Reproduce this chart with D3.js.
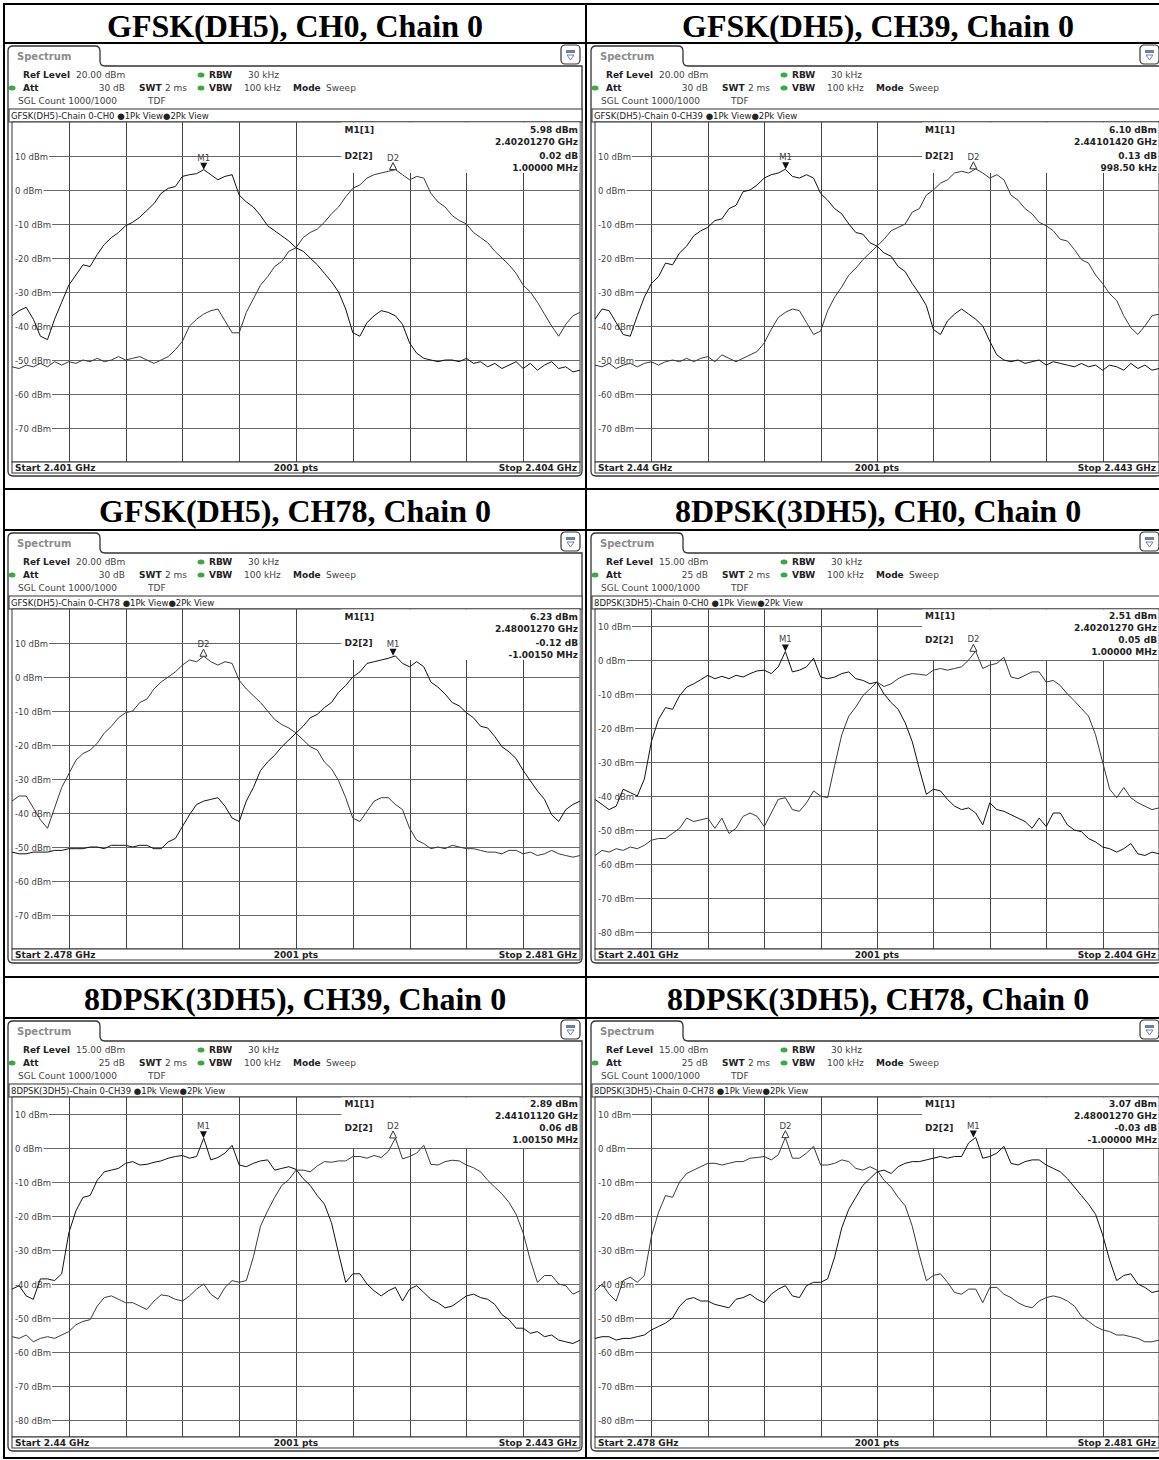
<!DOCTYPE html>
<html>
<head>
<meta charset="utf-8">
<script src="https://cdn.jsdelivr.net/npm/d3@7"></script>
<style>
  body { margin: 0; background: #fff; }
  text { font-family: "DejaVu Sans", sans-serif; }
</style>
</head>
<body>
<svg id="chart"></svg>
<script>
const width = 1159;
const height = 1460;

// ---- data ----
const titles = ["GFSK(DH5), CH0, Chain 0", "GFSK(DH5), CH39, Chain 0", "GFSK(DH5), CH78, Chain 0",
  "8DPSK(3DH5), CH0, Chain 0", "8DPSK(3DH5), CH39, Chain 0", "8DPSK(3DH5), CH78, Chain 0"];
const traceNames = ["GFSK(DH5)-Chain 0-CH0", "GFSK(DH5)-Chain 0-CH39", "GFSK(DH5)-Chain 0-CH78",
  "8DPSK(3DH5)-Chain 0-CH0", "8DPSK(3DH5)-Chain 0-CH39", "8DPSK(3DH5)-Chain 0-CH78"];
const refLevels = [20, 20, 20, 15, 15, 15];
const refTexts = ["20.00 dBm", "20.00 dBm", "20.00 dBm", "15.00 dBm", "15.00 dBm", "15.00 dBm"];
const attTexts = ["30 dB", "30 dB", "30 dB", "25 dB", "25 dB", "25 dB"];
const startGHz = [2.401, 2.44, 2.478, 2.401, 2.44, 2.478];
const stopGHz = [2.404, 2.443, 2.481, 2.404, 2.443, 2.481];
const startTexts = ["Start 2.401 GHz", "Start 2.44 GHz", "Start 2.478 GHz", "Start 2.401 GHz", "Start 2.44 GHz", "Start 2.478 GHz"];
const stopTexts = ["Stop 2.404 GHz", "Stop 2.443 GHz", "Stop 2.481 GHz", "Stop 2.404 GHz", "Stop 2.443 GHz", "Stop 2.481 GHz"];
const m1Freq = [2.4020127, 2.4410142, 2.4800127, 2.4020127, 2.4410112, 2.4800127];
const m1Level = [5.98, 6.10, 6.23, 2.51, 2.89, 3.07];
const d2OffsetMHz = [1.0, 0.9985, -1.0015, 1.0, 1.0015, -1.0];
const d2DeltaDb = [0.02, 0.13, -0.12, 0.05, 0.06, -0.03];
const m1LevelTexts = ["5.98 dBm", "6.10 dBm", "6.23 dBm", "2.51 dBm", "2.89 dBm", "3.07 dBm"];
const m1FreqTexts = ["2.40201270 GHz", "2.44101420 GHz", "2.48001270 GHz", "2.40201270 GHz", "2.44101120 GHz", "2.48001270 GHz"];
const d2DeltaTexts = ["0.02 dB", "0.13 dB", "-0.12 dB", "0.05 dB", "0.06 dB", "-0.03 dB"];
const d2OffsetTexts = ["1.00000 MHz", "998.50 kHz", "-1.00150 MHz", "1.00000 MHz", "1.00150 MHz", "-1.00000 MHz"];

// trace values in dBm, 81 points from start to stop
const gfskCh0Trace1 = [-37,-35.5,-34.5,-38,-43,-44,-38,-33,-28,-25,
  -22,-22.5,-19,-16,-14,-12.5,-10.5,-9.5,-8,-6,
  -4,-1,0.5,1,4,4.5,4.8,6,4.5,3,
  4,4.5,-1.5,-3.5,-5,-7.5,-10.5,-12,-13.5,-15,
  -17,-18,-20,-22,-24.5,-27,-30,-35,-42,-43,
  -39,-37,-35.5,-36,-37,-39.5,-45,-48,-49.5,-50,
  -50.5,-50,-50,-50.5,-49.5,-51,-50.5,-52,-51,-52.5,
  -51.5,-50.5,-52.5,-51,-53,-51.5,-50.5,-52.5,-52,-53.5,-53];
const gfskCh0Trace2 = [-52,-52.5,-51.5,-52,-51,-52,-50.5,-51.5,-50.5,-51,
  -50,-50.5,-49.5,-50.5,-50,-49,-50,-49.5,-49,-50,
  -51,-50,-49,-47,-44.5,-40,-38,-36.5,-35.5,-35,
  -38.5,-42,-42,-36,-32,-28,-25.5,-22.5,-21,-18,
  -17,-14,-12.5,-11.5,-9.5,-7,-5,-2,0.5,1.5,
  3.5,4.5,5,5.5,6,4.5,3,4,3.5,-1,
  -3.5,-5,-7.5,-9,-10,-12.5,-14,-15.5,-18,-20,
  -22,-24.5,-28,-30,-33,-36.5,-40,-43,-39.5,-37,-36];
const gfskCh39Trace1 = [-38,-35,-35.5,-39,-42.5,-43,-37,-31.5,-27.5,-25.5,
  -21.5,-22,-18.5,-16.5,-13.5,-12,-11,-9,-8.5,-5.5,
  -4.5,-0.5,0,1.5,3.5,4.5,5,6.1,4,3.5,
  4.5,3.5,-1,-3,-5.5,-7,-10,-12.5,-13,-15.5,
  -16.5,-18.5,-19.5,-22.5,-24,-27.5,-30.5,-34,-41,-42.5,
  -38.5,-36.5,-35,-36.5,-38,-40,-44.5,-48.5,-50,-50.5,
  -50,-51,-50.5,-50,-51.5,-50.5,-51,-51.5,-52,-51,
  -52,-51.5,-53,-51.5,-52,-53,-51,-52.5,-51.5,-53,-52.5];
const gfskCh39Trace2 = [-51.5,-52,-51,-52.5,-51.5,-51,-52,-51,-50.5,-51.5,
  -50.5,-50,-50.5,-49.5,-50.5,-49.5,-49,-50.5,-48.5,-49.5,
  -50.5,-49.5,-48.5,-47.5,-45,-41,-37.5,-36,-35,-35.5,
  -39,-42.5,-41.5,-35.5,-31.5,-28.5,-25,-23,-20.5,-18.5,
  -16.5,-14.5,-12,-11,-10,-6.5,-5.5,-1.5,0,2,
  3,5,5.5,5,6.2,5,3.5,4.5,3,-1.5,
  -3,-5.5,-7,-9.5,-10.5,-12,-14.5,-15,-17.5,-20.5,
  -21.5,-25,-27.5,-30.5,-32.5,-37,-40.5,-42.5,-40,-37,-36.5];
const gfskCh78Trace1 = [-51.5,-52,-52,-51.5,-51.5,-51.5,-51,-51,-50.5,-50.5,
  -50.5,-50,-50,-50.5,-49.5,-49.5,-49.5,-50,-49.5,-49.5,
  -50.5,-50.5,-48.5,-47.5,-44,-40.5,-37.5,-36.5,-36,-35.5,
  -38,-41.5,-42.5,-36.5,-32.5,-27.5,-25,-23,-20.5,-18.5,
  -16.5,-14.5,-12,-11,-9,-7.5,-4.5,-2.5,0,1.5,
  4,4.5,5,5.5,6.2,4,3,4.5,3,-1.5,
  -3,-5,-7.5,-8.5,-10.5,-12,-14.5,-15,-17.5,-20.5,
  -22,-24,-27.5,-30.5,-33.5,-36,-40.5,-42.5,-39,-37.5,-36.5];
const gfskCh78Trace2 = [-36.5,-35,-35,-38.5,-42,-44.5,-38.5,-32.5,-28.5,-24.5,
  -22.5,-21.5,-19.5,-16.5,-14.5,-12,-10.5,-10,-7.5,-6.5,
  -3.5,-1.5,0,1.5,3.5,5,4.5,6.1,4.5,3.5,
  4.5,4,-1,-3.5,-5.5,-7.5,-10,-12.5,-14,-15,
  -16.5,-18.5,-20.5,-21.5,-25,-27,-30.5,-35.5,-41.5,-42.5,
  -39.5,-36.5,-35.5,-35.5,-37.5,-39,-44.5,-48,-49,-50.5,
  -50,-50.5,-49.5,-50,-50.5,-50.5,-51,-51.5,-51.5,-52,
  -51,-51,-52,-51.5,-52.5,-52,-51,-52,-52.5,-53,-52.5];
const dpskCh0Trace1 = [-41,-42.5,-44,-43,-38,-39,-40,-35,-24,-17.5,
  -14,-14.5,-10.5,-8,-7,-5.8,-4.5,-5.5,-4.8,-5.5,
  -4.5,-5,-4,-3.2,-3,-4,-2,2.5,-3.5,-3,
  -2,0.5,-5,-5.5,-5,-4,-3.5,-5.5,-6,-7,
  -6.5,-10,-12.5,-14.5,-18.5,-24,-32,-39.5,-38,-38.5,
  -41,-43,-44,-43.5,-45,-48.5,-42,-44,-44.5,-45.5,
  -46.5,-47.5,-49.5,-46.5,-49,-45,-45,-48.5,-50,-50.5,
  -52.5,-53.5,-55,-55.5,-56.5,-55.5,-54,-57,-57.5,-56.5,-57];
const dpskCh0Trace2 = [-57.5,-56,-56.5,-55.5,-56,-55,-55.5,-54.5,-53,-52.5,
  -52.5,-51,-49.5,-46.5,-47.5,-47,-46.5,-49.5,-46.5,-51,
  -49.5,-46,-45,-46,-49,-45,-41,-40.5,-44,-44.5,
  -42,-38.5,-40,-40.5,-31,-22,-16.5,-13.8,-10.5,-8.5,
  -6.5,-7.8,-7,-5.5,-4.5,-4,-4.2,-4.5,-3,-2.5,
  -3,-2.5,-2,0,2.6,-2.5,-1.5,-1,0.8,-5,
  -5.5,-4.5,-3.5,-3.5,-6.5,-6,-7.5,-10,-12,-14.3,
  -16.5,-22,-30,-38,-40.5,-37.5,-40.5,-42,-43,-44,-43.5];
const dpskCh39Trace1 = [-41.5,-40.5,-43.5,-44.5,-38.5,-38.5,-39,-37,-25,-18.5,
  -14.5,-14,-9.5,-7,-6.5,-6,-4.5,-4,-5,-4.8,
  -4.2,-3.8,-3,-2.5,-2.2,-3,-2.5,2.9,-3.5,-2.8,
  -1.5,0.8,-5,-5.5,-4.5,-3.8,-3.5,-6.5,-6,-5.5,
  -6.3,-9,-11,-14,-16.5,-22,-31,-39.5,-37,-37,
  -40,-42,-43.5,-42,-41,-45,-41.5,-40.5,-42.5,-44.5,
  -45.5,-47,-46.5,-45,-43.5,-43,-44,-44.5,-46,-49,
  -50.5,-53,-53,-54.5,-54,-55.5,-55,-56.5,-57,-57.5,-56.5];
const dpskCh39Trace2 = [-55.5,-56,-55,-57,-56,-55.5,-56,-55,-54,-52,
  -51,-50.5,-46.5,-44,-43.5,-44.5,-45.5,-45.5,-46.5,-47.5,
  -45,-43.2,-43.5,-44.5,-45,-43.5,-41.5,-40,-43,-44.5,
  -41,-39,-39.5,-39,-32,-23,-18.5,-14.5,-11,-9.3,
  -6.5,-6.5,-7,-5.3,-4,-4.2,-3.8,-3.8,-2.5,-2.5,
  -3,-2.2,-2.8,-1,2.9,-3.2,-2.5,-1.5,0.8,-4.8,
  -5,-4,-3.6,-3.8,-5,-5.8,-7,-9.5,-11.5,-13.5,
  -16,-19.5,-25,-33,-39.5,-37.5,-37.5,-40,-40.5,-43,-42];
const dpskCh78Trace1 = [-56,-55.5,-55.5,-56.5,-56,-56,-55.5,-55,-53.5,-52.5,
  -51.5,-50,-46.5,-44.5,-44,-45,-45,-46,-46.5,-47,
  -44.5,-44,-43,-44.5,-45.5,-43,-41.5,-40.5,-43.5,-44,
  -40.5,-39.5,-39.5,-38.5,-32,-23.5,-18,-14.5,-11,-9,
  -7,-6.5,-7.5,-5.5,-4.5,-4,-4,-3.5,-3,-2.5,
  -3,-2.5,-2.5,1.5,3.1,-3,-2.5,-1.5,0.5,-4.5,
  -5,-4,-3.5,-3.5,-5,-6,-7,-9,-11.5,-14,
  -16.5,-19.5,-25.5,-33,-39,-37.5,-37,-40,-41,-42.5,-42];
const dpskCh78Trace2 = [-42,-40,-43,-45,-39,-38,-39.5,-37.5,-26,-19,
  -14,-14.5,-10,-7.5,-6.5,-5.5,-4.5,-4.5,-5,-4.5,
  -4,-4,-3,-2.8,-2.5,-3.5,-2,3.1,-3,-3,
  -1.5,0.5,-5,-5,-4.5,-3.5,-4,-6,-6.5,-5.5,
  -6.5,-9.5,-11.5,-14.5,-17,-23,-31.5,-39,-37.5,-37,
  -39.5,-42.5,-43,-41.5,-41.5,-45.5,-41,-41,-43,-44,
  -45.5,-46.5,-47,-45,-44,-43.5,-44,-45,-46.5,-49.5,
  -51,-52.5,-53.5,-54,-55,-55,-55.5,-56,-57,-57,-56.5];

const trace1s = [gfskCh0Trace1, gfskCh39Trace1, gfskCh78Trace1, dpskCh0Trace1, dpskCh39Trace1, dpskCh78Trace1];
const trace2s = [gfskCh0Trace2, gfskCh39Trace2, gfskCh78Trace2, dpskCh0Trace2, dpskCh39Trace2, dpskCh78Trace2];

// ---- table layout ----
const colX = [3, 586];
const rowTop = [42, 529, 1017];
const titleTop = [4, 489, 977];
// right column screenshots run to the page edge
const frameRight = [579, 575];
const plotRight = [577, 573];

const svg = d3.select("#chart").attr("width", width).attr("height", height);
svg.append("rect").attr("width", width).attr("height", height).attr("fill", "#fff");

// table borders
const hLines = [4, 43, 489, 530, 977, 1018, 1458];
hLines.forEach((y) => {
  svg.append("line").attr("x1", 3).attr("x2", 1180).attr("y1", y).attr("y2", y)
    .attr("stroke", "#000").attr("stroke-width", 2);
});
[4, 586].forEach((x) => {
  svg.append("line").attr("x1", x).attr("x2", x).attr("y1", 3).attr("y2", 1459)
    .attr("stroke", "#000").attr("stroke-width", 2);
});

function txt(g, x, y, s, size, opts) {
  opts = opts || {};
  return g.append("text").attr("x", x).attr("y", y).text(s)
    .attr("font-size", size)
    .attr("font-weight", opts.bold ? "bold" : "normal")
    .attr("text-anchor", opts.anchor || "start")
    .attr("fill", opts.fill || "#222");
}

titles.forEach((t, idx) => {
  const col = idx % 2, row = Math.floor(idx / 2);
  svg.append("text")
    .attr("x", col === 0 ? 295 : 878)
    .attr("y", titleTop[row] + 33)
    .attr("text-anchor", "middle")
    .attr("font-weight", "bold")
    .attr("font-size", 32)
    .attr("fill", "#000")
    .style("font-family", "Liberation Serif, serif")
    .text(t);
});

titles.forEach((t, idx) => {
  const col = idx % 2;
  const cx = colX[col], T = rowTop[Math.floor(idx / 2)];
  const g = svg.append("g").attr("transform", `translate(${cx},${T})`);

  const fx0 = 5, fx1 = frameRight[col], tabR = 97, tabT = 4, lineY = 24, bot = 434, r = 5;
  const plotL = 9, plotR = plotRight[col], plotT = 80, plotB = 420;
  const ref = refLevels[idx];

  // screenshot frame with the "Spectrum" tab
  const frame = `M${fx0},${bot - r} L${fx0},${tabT + r} Q${fx0},${tabT} ${fx0 + r},${tabT}
    L${tabR - r},${tabT} Q${tabR},${tabT} ${tabR},${tabT + r} L${tabR},${lineY - r}
    Q${tabR},${lineY} ${tabR + r},${lineY} L${fx1},${lineY} L${fx1},${bot - r}
    Q${fx1},${bot} ${fx1 - r},${bot} L${fx0 + r},${bot} Q${fx0},${bot} ${fx0},${bot - r} Z`;
  g.append("path").attr("d", frame).attr("fill", "#fff").attr("stroke", "#333").attr("stroke-width", 1.3);
  txt(g, 14, 18, "Spectrum", 10, { bold: true, fill: "#8c8c8c" });

  // little icon at the top right
  const ix = fx1 - 21, iy = 3;
  g.append("rect").attr("x", ix).attr("y", iy).attr("width", 19).attr("height", 19).attr("rx", 4)
    .attr("fill", "#fff").attr("stroke", "#333").attr("stroke-width", 1.2);
  g.append("rect").attr("x", ix + 5).attr("y", iy + 5).attr("width", 9).attr("height", 3).attr("fill", "#6f7f9f");
  g.append("path").attr("d", `M${ix + 6},${iy + 10} L${ix + 13},${iy + 10} L${ix + 9.5},${iy + 15} Z`)
    .attr("fill", "none").attr("stroke", "#6f7f9f").attr("stroke-width", 1);

  // header settings
  const dot = (x, y) => g.append("ellipse").attr("cx", x).attr("cy", y).attr("rx", 3.5).attr("ry", 2.5).attr("fill", "#3aa845");
  txt(g, 20, 36, "Ref Level", 9, { bold: true });
  txt(g, 73, 36, refTexts[idx], 9, { fill: "#444" });
  dot(198, 33);
  txt(g, 206, 36, "RBW", 9, { bold: true });
  txt(g, 245, 36, "30 kHz", 9, { fill: "#444" });
  dot(9, 46);
  txt(g, 20, 49, "Att", 9, { bold: true });
  txt(g, 122, 49, attTexts[idx], 9, { fill: "#444", anchor: "end" });
  txt(g, 136, 49, "SWT", 9, { bold: true });
  txt(g, 162, 49, "2 ms", 9, { fill: "#444" });
  dot(198, 46);
  txt(g, 206, 49, "VBW", 9, { bold: true });
  txt(g, 241, 49, "100 kHz", 9, { fill: "#444" });
  txt(g, 290, 49, "Mode", 9, { bold: true });
  txt(g, 323, 49, "Sweep", 9, { fill: "#444" });
  txt(g, 15, 62, "SGL Count 1000/1000", 9, { fill: "#444" });
  txt(g, 145, 62, "TDF", 9, { fill: "#444" });

  g.append("rect").attr("x", fx0 + 1).attr("y", 67).attr("width", fx1 - fx0 - 1).attr("height", 13)
    .attr("fill", "#fff").attr("stroke", "#333").attr("stroke-width", 1);
  txt(g, 8, 77, traceNames[idx] + " \u25CF1Pk View\u25CF2Pk View", 8.5, { fill: "#222" });

  // scales
  const x = d3.scaleLinear().domain([startGHz[idx], stopGHz[idx]]).range([plotL, plotR]);
  const y = d3.scaleLinear().domain([ref - 100, ref]).range([plotB, plotT]);

  // plot box and grid
  g.append("rect").attr("x", plotL).attr("y", plotT).attr("width", plotR - plotL).attr("height", plotB - plotT)
    .attr("fill", "#fff").attr("stroke", "#333").attr("stroke-width", 1);
  const step = (stopGHz[idx] - startGHz[idx]) / 10;
  d3.range(1, 10).forEach((k) => {
    const gx = Math.round(x(startGHz[idx] + k * step)) + 0.5;
    g.append("line").attr("x1", gx).attr("x2", gx).attr("y1", plotT).attr("y2", plotB)
      .attr("stroke", "#444").attr("stroke-width", 1);
  });
  const levels = y.ticks(10).filter((v) => v > ref - 100 && v < ref);
  levels.forEach((v) => {
    const gy = Math.round(y(v)) + 0.5;
    const lab = txt(g, plotL + 3, gy + 3, v + " dBm", 8.5, { fill: "#444" });
    const lw = lab.node().getComputedTextLength();
    g.append("line").attr("x1", plotL + 3 + lw + 1).attr("x2", plotR).attr("y1", gy).attr("y2", gy)
      .attr("stroke", "#666").attr("stroke-width", 1);
  });

  // marker info block (covers the grid)
  const infoL = plotL + 0.58 * (plotR - plotL);
  g.append("rect").attr("x", infoL).attr("y", plotT + 0.5).attr("width", plotR - infoL - 0.5).attr("height", 50.5)
    .attr("fill", "#fff");
  const rows = ref === 20 ? [11, 23, 37, 49] : [10, 22, 34, 46];
  txt(g, infoL + 3, plotT + rows[0], "M1[1]", 9, { bold: true });
  txt(g, plotR - 2, plotT + rows[0], m1LevelTexts[idx], 9, { bold: true, anchor: "end" });
  txt(g, plotR - 2, plotT + rows[1], m1FreqTexts[idx], 9, { bold: true, anchor: "end" });
  txt(g, infoL + 3, plotT + rows[2], "D2[2]", 9, { bold: true });
  txt(g, plotR - 2, plotT + rows[2], d2DeltaTexts[idx], 9, { bold: true, anchor: "end" });
  txt(g, plotR - 2, plotT + rows[3], d2OffsetTexts[idx], 9, { bold: true, anchor: "end" });

  // traces
  g.append("clipPath").attr("id", "clip" + idx).append("rect")
    .attr("x", plotL).attr("y", plotT).attr("width", plotR - plotL).attr("height", plotB - plotT);
  const traces = [[trace2s[idx], "#3a3a3a"], [trace1s[idx], "#111"]];
  traces.forEach(([data, color]) => {
    const fstep = (stopGHz[idx] - startGHz[idx]) / (data.length - 1);
    const line = d3.line()
      .x((d, i) => x(startGHz[idx] + i * fstep))
      .y((d) => y(d));
    g.append("path").datum(data).attr("d", line)
      .attr("clip-path", `url(#clip${idx})`)
      .attr("fill", "none").attr("stroke", color).attr("stroke-width", 1);
  });

  // markers
  const mx = x(m1Freq[idx]), my = y(m1Level[idx]);
  g.append("path").attr("d", `M${mx - 3.5},${my - 7} L${mx + 3.5},${my - 7} L${mx},${my} Z`).attr("fill", "#111");
  txt(g, mx, my - 9, "M1", 8.5, { anchor: "middle", fill: "#444" });
  const dx = x(m1Freq[idx] + d2OffsetMHz[idx] / 1000), dy = y(m1Level[idx] + d2DeltaDb[idx]);
  g.append("path").attr("d", `M${dx - 3.5},${dy} L${dx + 3.5},${dy} L${dx},${dy - 7} Z`)
    .attr("fill", "#fff").attr("stroke", "#333").attr("stroke-width", 1);
  txt(g, dx, dy - 9, "D2", 8.5, { anchor: "middle", fill: "#444" });

  // footer
  g.append("rect").attr("x", plotL).attr("y", plotB).attr("width", plotR - plotL).attr("height", 11)
    .attr("fill", "#fff").attr("stroke", "#333").attr("stroke-width", 1);
  txt(g, plotL + 3, plotB + 9, startTexts[idx], 9, { bold: true });
  txt(g, (plotL + plotR) / 2, plotB + 9, "2001 pts", 9, { bold: true, anchor: "middle" });
  txt(g, plotR - 3, plotB + 9, stopTexts[idx], 9, { bold: true, anchor: "end" });
});
</script>
</body>
</html>
